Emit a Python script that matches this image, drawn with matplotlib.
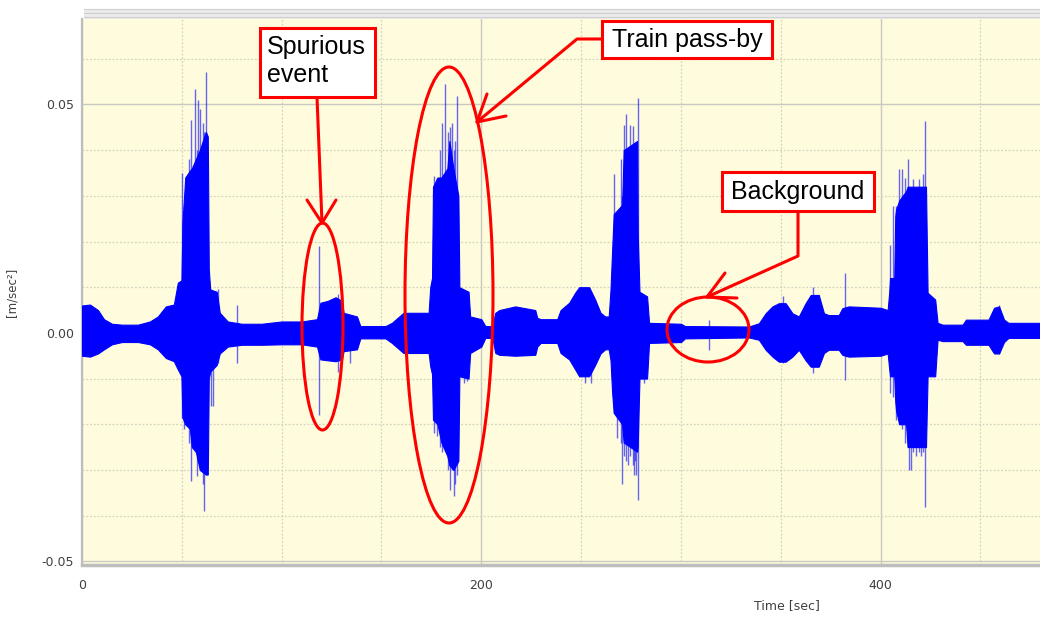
import matplotlib
matplotlib.use("Agg")
import matplotlib.pyplot as plt
from matplotlib.patches import Ellipse, Rectangle

# envelope of the acceleration trace (sec, m/sec^2)
time_s = [0, 4, 8, 11, 15, 20, 28, 34, 38, 42,
          46, 48, 49.8, 50.3, 51.7, 54, 55, 57, 59, 62,
          63, 63.5, 64.2, 67.5, 69, 73, 80, 90, 100, 110,
          117.7, 119.4, 123, 127, 130.2, 131, 137.7, 139.4, 152, 155.2,
          161, 173.6, 174.4, 175.3, 175.8, 178, 180, 183, 184, 186,
          188.5, 189, 193.6, 194.4, 200, 202, 205.5, 207, 209, 217,
          227, 228, 229.7, 238, 239.7, 244, 247, 249, 254, 257,
          259.7, 262, 263.8, 264.7, 265.5, 266.3, 270.5, 271.3, 278, 278.3,
          279.2, 283, 284, 300, 302, 334, 339, 342.4, 345.8, 349,
          352.4, 355.8, 359, 362.4, 365, 369, 371.6, 374, 379, 380.8,
          384, 400, 403.5, 404.3, 404.7, 406.8, 407.3, 407.7, 409.3, 412.7,
          413.5, 422.7, 423.5, 427.3, 428.5, 431, 441, 442.7, 454, 456.8,
          459.3, 461.8, 464, 480]
upper = [0.0060, 0.0062, 0.0050, 0.0030, 0.0020, 0.0018, 0.0018, 0.0025, 0.0036, 0.0058,
         0.0062, 0.0110, 0.0115, 0.0240, 0.0340, 0.0355, 0.0360, 0.0380, 0.0400, 0.0440,
         0.0430, 0.0140, 0.0095, 0.0090, 0.0044, 0.0025, 0.0020, 0.0020, 0.0025, 0.0025,
         0.0030, 0.0066, 0.0070, 0.0078, 0.0070, 0.0044, 0.0036, 0.0015, 0.0015, 0.0022,
         0.0044, 0.0044, 0.0100, 0.0120, 0.0320, 0.0340, 0.0340, 0.0360, 0.0420, 0.0360,
         0.0300, 0.0100, 0.0090, 0.0036, 0.0030, 0.0015, 0.0015, 0.0044, 0.0050, 0.0058,
         0.0050, 0.0033, 0.0030, 0.0030, 0.0050, 0.0066, 0.0088, 0.0100, 0.0100, 0.0073,
         0.0044, 0.0036, 0.0036, 0.0095, 0.0180, 0.0260, 0.0280, 0.0400, 0.0420, 0.0220,
         0.0090, 0.0080, 0.0022, 0.0020, 0.0015, 0.0014, 0.0021, 0.0043, 0.0058, 0.0065,
         0.0065, 0.0043, 0.0036, 0.0065, 0.0083, 0.0083, 0.0043, 0.0039, 0.0039, 0.0054,
         0.0058, 0.0055, 0.0050, 0.0090, 0.0120, 0.0120, 0.0255, 0.0270, 0.0290, 0.0310,
         0.0320, 0.0320, 0.0088, 0.0073, 0.0022, 0.0018, 0.0018, 0.0029, 0.0029, 0.0055,
         0.0058, 0.0029, 0.0022, 0.0022]
lower = [-0.0050, -0.0052, -0.0045, -0.0036, -0.0025, -0.0020, -0.0020, -0.0025, -0.0036, -0.0055,
         -0.0062, -0.0080, -0.0095, -0.0185, -0.0200, -0.0210, -0.0250, -0.0260, -0.0300, -0.0310,
         -0.0310, -0.0100, -0.0085, -0.0070, -0.0045, -0.0030, -0.0026, -0.0026, -0.0025, -0.0025,
         -0.0030, -0.0058, -0.0060, -0.0062, -0.0058, -0.0040, -0.0036, -0.0012, -0.0012, -0.0022,
         -0.0044, -0.0044, -0.0073, -0.0090, -0.0190, -0.0200, -0.0240, -0.0270, -0.0290, -0.0300,
         -0.0280, -0.0095, -0.0100, -0.0044, -0.0030, -0.0011, -0.0011, -0.0044, -0.0048, -0.0050,
         -0.0048, -0.0030, -0.0022, -0.0022, -0.0044, -0.0058, -0.0080, -0.0095, -0.0095, -0.0070,
         -0.0045, -0.0036, -0.0036, -0.0060, -0.0130, -0.0175, -0.0200, -0.0240, -0.0260, -0.0250,
         -0.0100, -0.0100, -0.0022, -0.0020, -0.0012, -0.0010, -0.0015, -0.0037, -0.0052, -0.0063,
         -0.0063, -0.0052, -0.0037, -0.0060, -0.0074, -0.0074, -0.0044, -0.0037, -0.0037, -0.0048,
         -0.0052, -0.0050, -0.0045, -0.0080, -0.0095, -0.0095, -0.0150, -0.0170, -0.0200, -0.0200,
         -0.0250, -0.0250, -0.0095, -0.0095, -0.0015, -0.0018, -0.0018, -0.0026, -0.0026, -0.0045,
         -0.0045, -0.0020, -0.0011, -0.0011]

# single peaks sticking out of the envelope
spike_t = [50.3, 51.2, 52.5, 53.6, 54.7, 56.7, 57.5, 58.0, 59.2, 60.4, 61.3, 62.0,
           64.7, 65.8, 68.3, 77.5,
           118.5, 128, 134,
           176.1, 177.8, 179.2, 180.3, 182.0, 183.4, 184.4, 185.3, 186.1, 186.9, 187.8,
           191.1, 192.8,
           252, 255, 266.3, 268.0, 269.7, 270.5, 271.3, 272.5, 273.6, 274.7, 275.8, 276.3,
           276.8, 277.5, 278.3, 281.7,
           314, 351, 366, 382,
           404.7, 406.0, 407.7, 409.3, 410.7, 412.0, 413.5, 414.3, 415.3, 416.0, 417.7,
           419.0, 420.2, 421.3, 422.2, 426.8, 459.3]
spike_top = [0.035, 0.028, 0.030, 0.038, 0.0467, 0.0533, 0.040, 0.051, 0.049, 0.046,
             0.044, 0.057,
             0.0095, 0.009, 0.0095, 0.006,
             0.019, 0.0085, 0.004,
             0.0343, 0.034, 0.040, 0.046, 0.0544, 0.044, 0.045, 0.046, 0.040, 0.042,
             0.0518, 0.008, 0.008,
             0.010, 0.009, 0.0347, 0.026, 0.038, 0.030, 0.0456, 0.0478, 0.040, 0.0456,
             0.0453, 0.040, 0.0365, 0.040, 0.0515, 0.008,
             0.0028, 0.0080, 0.010, 0.013,
             0.0193, 0.0277, 0.0277, 0.0358, 0.0358, 0.034, 0.038, 0.032, 0.030, 0.0336,
             0.030, 0.0336, 0.032, 0.0347, 0.0464, 0.0073, 0.0062]
spike_bot = [-0.0186, -0.021, -0.020, -0.024, -0.0325, -0.026, -0.0314, -0.028, -0.029,
             -0.033, -0.039, -0.031,
             -0.016, -0.016, -0.0066, -0.0066,
             -0.018, -0.0085, -0.0065,
             -0.022, -0.0226, -0.025, -0.026, -0.024, -0.030, -0.0343, -0.030, -0.0358,
             -0.033, -0.031, -0.011, -0.0105,
             -0.011, -0.011, -0.0175, -0.023, -0.024, -0.033, -0.027, -0.028, -0.029,
             -0.027, -0.029, -0.031, -0.028, -0.031, -0.0365, -0.011,
             -0.0037, -0.0066, -0.0088, -0.0103,
             -0.0131, -0.014, -0.019, -0.020, -0.021, -0.024, -0.025, -0.030, -0.030,
             -0.026, -0.027, -0.026, -0.027, -0.026, -0.038, -0.0095, -0.0047]

x_ticks = [0, 200, 400]
y_ticks = [-0.05, 0.00, 0.05]
y_ticklabels = ["-0.05", "0.00", "0.05"]

W, H = 1040, 621
BLUE = "#0000FF"
RED = "#FF0000"

fig = plt.figure(figsize=(W / 100, H / 100), dpi=100)
ax = fig.add_axes([82 / W, 1 - 565 / H, 1 - 82 / W, (565 - 19) / H])
ax.set_facecolor("#FEFCDC")

ax.fill_between(time_s, lower, upper, color=BLUE, lw=0.8, zorder=3)
ax.vlines(spike_t, spike_bot, spike_top, color=BLUE, lw=1.0, alpha=0.6, zorder=3)

ax.set_xlim(0, 479.8)
ax.set_ylim(-0.0508, 0.0687)
ax.set_xticks(x_ticks)
ax.set_xticks(range(50, 480, 50), minor=True)
ax.set_yticks(y_ticks)
ax.set_yticklabels(y_ticklabels)
ax.set_yticks([v / 100 for v in range(-5, 7)], minor=True)
ax.grid(which="major", color="#C9C9C4", lw=1.0, ls="-", zorder=0)
ax.grid(which="minor", color="#D6D4C0", lw=0.9, ls=(0, (1.5, 1.5)), zorder=0)
ax.set_axisbelow(True)
ax.tick_params(which="both", length=0)
ax.tick_params(axis="y", pad=6, labelsize=9, labelcolor="#404040")
ax.tick_params(axis="x", pad=10, labelsize=9, labelcolor="#404040")
for side in ("top", "right"):
    ax.spines[side].set_visible(False)
ax.spines["left"].set_color("#BDBDBD")
ax.spines["left"].set_linewidth(1.6)
ax.spines["bottom"].set_color("#BDBDBD")
ax.spines["bottom"].set_linewidth(2.5)

ax.set_ylabel("[m/sec²]", fontsize=8.5, color="#404040")
ax.yaxis.set_label_coords((18 - 82) / 958, 0.5)
ax.set_xlabel("Time [sec]", fontsize=9, color="#404040")
ax.xaxis.set_label_coords((787 - 82) / 958, (565 - 599) / 546)

# overlay in pixel units for the frame top and the red callouts
ov = fig.add_axes([0, 0, 1, 1])
ov.set_xlim(0, W)
ov.set_ylim(H, 0)
ov.axis("off")

ov.add_patch(Rectangle((84, 9), W - 84, 10, facecolor="#EBEBEB", edgecolor="none"))
for yy in (9, 13, 17):
    ov.plot([84, W], [yy, yy], color="#CFCFCF", lw=0.8)

red_kw = dict(color=RED, lw=2.2, solid_capstyle="round", solid_joinstyle="round")
box_kw = dict(facecolor="white", edgecolor=RED, lw=2.2, zorder=5)
txt_kw = dict(fontsize=18, family="Liberation Sans", color="black", zorder=6)

ov.add_patch(Ellipse((322.5, 326.5), 41, 207, fill=False, edgecolor=RED, lw=2.2))
ov.add_patch(Ellipse((449, 295), 88, 456, fill=False, edgecolor=RED, lw=2.2))
ov.add_patch(Ellipse((708, 329.5), 82, 65, fill=False, edgecolor=RED, lw=2.2))

# Spurious event
ov.plot([317, 322], [97, 223], **red_kw)
ov.plot([307, 322, 336], [200, 223, 200], **red_kw)
ov.add_patch(Rectangle((260, 28), 115, 69, **box_kw))
ov.text(267, 61, "Spurious\nevent", ha="left", va="center", linespacing=1.2, **txt_kw)

# Train pass-by
ov.plot([602, 577, 477], [39, 39, 122], **red_kw)
ov.plot([487, 477, 506], [94, 122, 116], **red_kw)
ov.add_patch(Rectangle((602, 21), 170, 37, **box_kw))
ov.text(687, 40, "Train pass-by", ha="center", va="center", **txt_kw)

# Background
ov.plot([798, 798, 707], [211, 256, 297], **red_kw)
ov.plot([725, 707, 737], [273, 297, 298], **red_kw)
ov.add_patch(Rectangle((722, 172), 152, 39, **box_kw))
ov.text(798, 192, "Background", ha="center", va="center", **txt_kw)

fig.savefig("out.png", dpi=100)
